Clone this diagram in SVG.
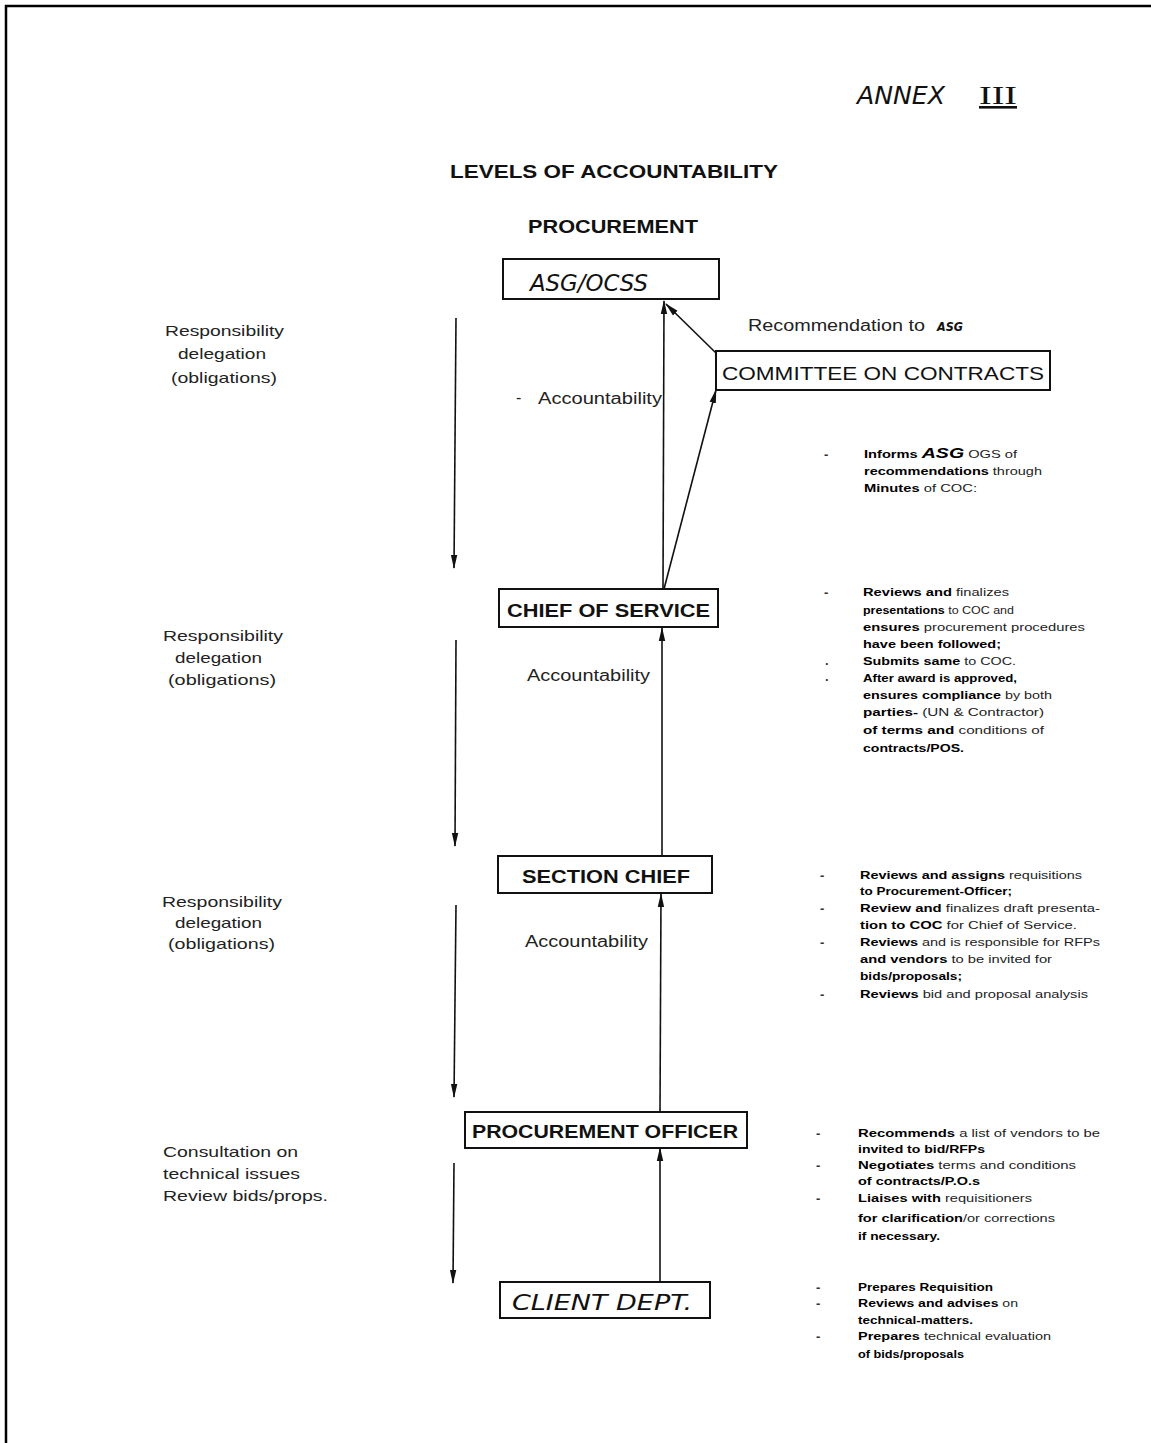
<svg xmlns="http://www.w3.org/2000/svg" width="1151" height="1443" viewBox="0 0 1151 1443">
<style>
  .bg { fill: #ffffff; }
  .frame { fill: none; stroke: #000; stroke-width: 2.5; }
  .box { fill: #ffffff; stroke: #111; stroke-width: 2; }
  .conn { fill: none; stroke: #111; stroke-width: 1.6; }
  .title { font-family: "Liberation Sans", Arial, sans-serif; font-weight: bold; font-size: 19px; fill: #111; }
  .label { font-family: "Liberation Sans", Arial, sans-serif; font-weight: bold; font-size: 19px; fill: #111; }
  .label2 { font-family: "Liberation Sans", Arial, sans-serif; font-size: 19px; fill: #111; }
  .hand { font-family: "DejaVu Sans", "Liberation Sans", sans-serif; font-style: italic; fill: #111; }
  .side { font-family: "Liberation Sans", Arial, sans-serif; font-size: 15px; fill: #222; }
  .acc { font-family: "Liberation Sans", Arial, sans-serif; font-size: 16px; fill: #222; }
  .note { font-family: "Liberation Sans", Arial, sans-serif; font-size: 10.5px; fill: #222; }
  .dash { font-family: "Liberation Sans", Arial, sans-serif; font-size: 13px; font-weight: bold; fill: #333; }
  .b { font-weight: bold; fill: #000; }
</style>
<defs>
  <marker id="arrow" viewBox="0 0 14 8" refX="13" refY="4" markerWidth="14" markerHeight="8" markerUnits="userSpaceOnUse" orient="auto">
    <path d="M0,0.8 L14,4 L0,7.2 z" fill="#111"/>
  </marker>
</defs>
<rect class="bg" x="0" y="0" width="1151" height="1443"/>
<path class="frame" d="M6,1443 V6 H1151"/>

<g id="header">
  <text class="hand" x="857" y="104" font-size="25" textLength="88" lengthAdjust="spacingAndGlyphs">ANNEX</text>
  <text x="979" y="104" font-family="Liberation Serif, serif" font-size="26" fill="#111" text-decoration="underline" textLength="38" lengthAdjust="spacingAndGlyphs">III</text>
  <text class="title" x="450" y="178" textLength="328" lengthAdjust="spacingAndGlyphs">LEVELS OF ACCOUNTABILITY</text>
  <text class="title" x="528" y="233" textLength="170" lengthAdjust="spacingAndGlyphs">PROCUREMENT</text>
</g>

<g id="connectors">
  <!-- responsibility delegation arrows (down) -->
  <line class="conn" x1="456" y1="318" x2="454" y2="568" marker-end="url(#arrow)"/>
  <line class="conn" x1="456" y1="640" x2="455" y2="846" marker-end="url(#arrow)"/>
  <line class="conn" x1="456" y1="905" x2="454" y2="1097" marker-end="url(#arrow)"/>
  <line class="conn" x1="454" y1="1163" x2="453" y2="1283" marker-end="url(#arrow)"/>
  <!-- accountability arrows (up) -->
  <line class="conn" x1="663" y1="589" x2="664" y2="301" marker-end="url(#arrow)"/>
  <line class="conn" x1="716" y1="353" x2="666" y2="304" marker-end="url(#arrow)"/>
  <line class="conn" x1="664" y1="589" x2="716" y2="390" marker-end="url(#arrow)"/>
  <line class="conn" x1="662" y1="856" x2="662" y2="628" marker-end="url(#arrow)"/>
  <line class="conn" x1="660" y1="1112" x2="661" y2="894" marker-end="url(#arrow)"/>
  <line class="conn" x1="660" y1="1282" x2="660" y2="1148" marker-end="url(#arrow)"/>
</g>

<g id="node-asg">
  <rect class="box" x="503" y="259" width="216" height="40"/>
  <text class="hand" x="530" y="291" font-size="23" textLength="118" lengthAdjust="spacingAndGlyphs">ASG/OCSS</text>
</g>

<g id="node-coc">
  <rect class="box" x="716" y="351" width="334" height="39"/>
  <text class="label2" x="722" y="380" textLength="322" lengthAdjust="spacingAndGlyphs">COMMITTEE ON CONTRACTS</text>
</g>

<g id="node-chief-service">
  <rect class="box" x="499" y="589" width="219" height="38"/>
  <text class="label" x="507" y="617" textLength="203" lengthAdjust="spacingAndGlyphs">CHIEF OF SERVICE</text>
</g>

<g id="node-section-chief">
  <rect class="box" x="498" y="856" width="214" height="37"/>
  <text class="label" x="522" y="883" textLength="168" lengthAdjust="spacingAndGlyphs">SECTION CHIEF</text>
</g>

<g id="node-procurement-officer">
  <rect class="box" x="465" y="1112" width="282" height="36"/>
  <text class="label" x="472" y="1138" textLength="266" lengthAdjust="spacingAndGlyphs">PROCUREMENT OFFICER</text>
</g>

<g id="node-client">
  <rect class="box" x="500" y="1282" width="210" height="36"/>
  <text class="hand" x="512" y="1310" font-size="21" textLength="180" lengthAdjust="spacingAndGlyphs">CLIENT DEPT.</text>
</g>

<g id="labels-left">
  <text class="side" x="165" y="336" textLength="119" lengthAdjust="spacingAndGlyphs">Responsibility</text>
  <text class="side" x="178" y="359" textLength="88" lengthAdjust="spacingAndGlyphs">delegation</text>
  <text class="side" x="171" y="383" textLength="106" lengthAdjust="spacingAndGlyphs">(obligations)</text>

  <text class="side" x="163" y="641" textLength="120" lengthAdjust="spacingAndGlyphs">Responsibility</text>
  <text class="side" x="175" y="663" textLength="87" lengthAdjust="spacingAndGlyphs">delegation</text>
  <text class="side" x="168" y="685" textLength="108" lengthAdjust="spacingAndGlyphs">(obligations)</text>

  <text class="side" x="162" y="907" textLength="120" lengthAdjust="spacingAndGlyphs">Responsibility</text>
  <text class="side" x="175" y="928" textLength="87" lengthAdjust="spacingAndGlyphs">delegation</text>
  <text class="side" x="168" y="949" textLength="107" lengthAdjust="spacingAndGlyphs">(obligations)</text>

  <text class="side" x="163" y="1157" textLength="135" lengthAdjust="spacingAndGlyphs">Consultation on</text>
  <text class="side" x="163" y="1179" textLength="137" lengthAdjust="spacingAndGlyphs">technical issues</text>
  <text class="side" x="163" y="1201" textLength="165" lengthAdjust="spacingAndGlyphs">Review bids/props.</text>
</g>

<g id="labels-accountability">
  <text class="acc" x="516" y="403">-</text>
  <text class="acc" x="538" y="404" textLength="124" lengthAdjust="spacingAndGlyphs">Accountability</text>
  <text class="acc" x="527" y="681" textLength="123" lengthAdjust="spacingAndGlyphs">Accountability</text>
  <text class="acc" x="525" y="947" textLength="123" lengthAdjust="spacingAndGlyphs">Accountability</text>
  <text class="acc" x="748" y="331" font-size="15" textLength="177" lengthAdjust="spacingAndGlyphs">Recommendation to</text>
  <text class="hand" x="937" y="331" font-size="12" font-weight="bold" textLength="26" lengthAdjust="spacingAndGlyphs">ASG</text>
</g>

<g id="notes-coc">
  <text class="dash" x="824" y="459">-</text>
  <text class="note" x="864" y="458" textLength="153" lengthAdjust="spacingAndGlyphs"><tspan class="b">Informs </tspan><tspan class="b" font-size="14" font-style="italic">ASG</tspan><tspan>  OGS of</tspan></text>
  <text class="note" x="864" y="475" textLength="178" lengthAdjust="spacingAndGlyphs"><tspan class="b">recommendations</tspan> through</text>
  <text class="note" x="864" y="492" textLength="113" lengthAdjust="spacingAndGlyphs"><tspan class="b">Minutes</tspan> of COC:</text>
</g>

<g id="notes-chief-service">
  <text class="dash" x="824" y="597">-</text>
  <text class="dash" x="825" y="665">.</text>
  <text class="dash" x="825" y="681">.</text>
  <text class="note" x="863" y="596" textLength="146" lengthAdjust="spacingAndGlyphs"><tspan class="b">Reviews and</tspan> finalizes</text>
  <text class="note" x="863" y="614" textLength="151" lengthAdjust="spacingAndGlyphs"><tspan class="b">presentations</tspan> to COC and</text>
  <text class="note" x="863" y="631" textLength="222" lengthAdjust="spacingAndGlyphs"><tspan class="b">ensures</tspan> procurement procedures</text>
  <text class="note" x="863" y="648" textLength="138" lengthAdjust="spacingAndGlyphs"><tspan class="b">have been followed;</tspan></text>
  <text class="note" x="863" y="665" textLength="153" lengthAdjust="spacingAndGlyphs"><tspan class="b">Submits same</tspan> to COC.</text>
  <text class="note" x="863" y="682" textLength="154" lengthAdjust="spacingAndGlyphs"><tspan class="b">After award is approved,</tspan></text>
  <text class="note" x="863" y="699" textLength="189" lengthAdjust="spacingAndGlyphs"><tspan class="b">ensures compliance</tspan> by both</text>
  <text class="note" x="863" y="716" textLength="181" lengthAdjust="spacingAndGlyphs"><tspan class="b">parties-</tspan> (UN &amp; Contractor)</text>
  <text class="note" x="863" y="734" textLength="181" lengthAdjust="spacingAndGlyphs"><tspan class="b">of terms and</tspan> conditions of</text>
  <text class="note" x="863" y="752" textLength="101" lengthAdjust="spacingAndGlyphs"><tspan class="b">contracts/POS.</tspan></text>
</g>

<g id="notes-section-chief">
  <text class="dash" x="820" y="880">-</text>
  <text class="dash" x="820" y="913">-</text>
  <text class="dash" x="820" y="947">-</text>
  <text class="dash" x="820" y="999">-</text>
  <text class="note" x="860" y="879" textLength="222" lengthAdjust="spacingAndGlyphs"><tspan class="b">Reviews and assigns</tspan> requisitions</text>
  <text class="note" x="860" y="895" textLength="152" lengthAdjust="spacingAndGlyphs"><tspan class="b">to Procurement-Officer;</tspan></text>
  <text class="note" x="860" y="912" textLength="240" lengthAdjust="spacingAndGlyphs"><tspan class="b">Review and</tspan> finalizes draft presenta-</text>
  <text class="note" x="860" y="929" textLength="217" lengthAdjust="spacingAndGlyphs"><tspan class="b">tion to COC</tspan> for Chief of Service.</text>
  <text class="note" x="860" y="946" textLength="240" lengthAdjust="spacingAndGlyphs"><tspan class="b">Reviews</tspan> and is responsible for RFPs</text>
  <text class="note" x="860" y="963" textLength="192" lengthAdjust="spacingAndGlyphs"><tspan class="b">and vendors</tspan> to be invited for</text>
  <text class="note" x="860" y="980" textLength="102" lengthAdjust="spacingAndGlyphs"><tspan class="b">bids/proposals;</tspan></text>
  <text class="note" x="860" y="998" textLength="228" lengthAdjust="spacingAndGlyphs"><tspan class="b">Reviews</tspan> bid and proposal analysis</text>
</g>

<g id="notes-procurement-officer">
  <text class="dash" x="816" y="1138">-</text>
  <text class="dash" x="816" y="1170">-</text>
  <text class="dash" x="816" y="1203">-</text>
  <text class="note" x="858" y="1137" textLength="242" lengthAdjust="spacingAndGlyphs"><tspan class="b">Recommends</tspan> a list of vendors to be</text>
  <text class="note" x="858" y="1153" textLength="127" lengthAdjust="spacingAndGlyphs"><tspan class="b">invited to bid/RFPs</tspan></text>
  <text class="note" x="858" y="1169" textLength="218" lengthAdjust="spacingAndGlyphs"><tspan class="b">Negotiates</tspan> terms and conditions</text>
  <text class="note" x="858" y="1185" textLength="122" lengthAdjust="spacingAndGlyphs"><tspan class="b">of contracts/P.O.s</tspan></text>
  <text class="note" x="858" y="1202" textLength="174" lengthAdjust="spacingAndGlyphs"><tspan class="b">Liaises with</tspan> requisitioners</text>
  <text class="note" x="858" y="1222" textLength="197" lengthAdjust="spacingAndGlyphs"><tspan class="b">for clarification</tspan>/or corrections</text>
  <text class="note" x="858" y="1240" textLength="82" lengthAdjust="spacingAndGlyphs"><tspan class="b">if necessary.</tspan></text>
</g>

<g id="notes-client">
  <text class="dash" x="816" y="1292">-</text>
  <text class="dash" x="816" y="1308">-</text>
  <text class="dash" x="816" y="1341">-</text>
  <text class="note" x="858" y="1291" textLength="135" lengthAdjust="spacingAndGlyphs"><tspan class="b">Prepares Requisition</tspan></text>
  <text class="note" x="858" y="1307" textLength="160" lengthAdjust="spacingAndGlyphs"><tspan class="b">Reviews and advises</tspan> on</text>
  <text class="note" x="858" y="1324" textLength="115" lengthAdjust="spacingAndGlyphs"><tspan class="b">technical-matters.</tspan></text>
  <text class="note" x="858" y="1340" textLength="193" lengthAdjust="spacingAndGlyphs"><tspan class="b">Prepares</tspan> technical evaluation</text>
  <text class="note" x="858" y="1358" textLength="106" lengthAdjust="spacingAndGlyphs"><tspan class="b">of bids/proposals</tspan></text>
</g>
</svg>
